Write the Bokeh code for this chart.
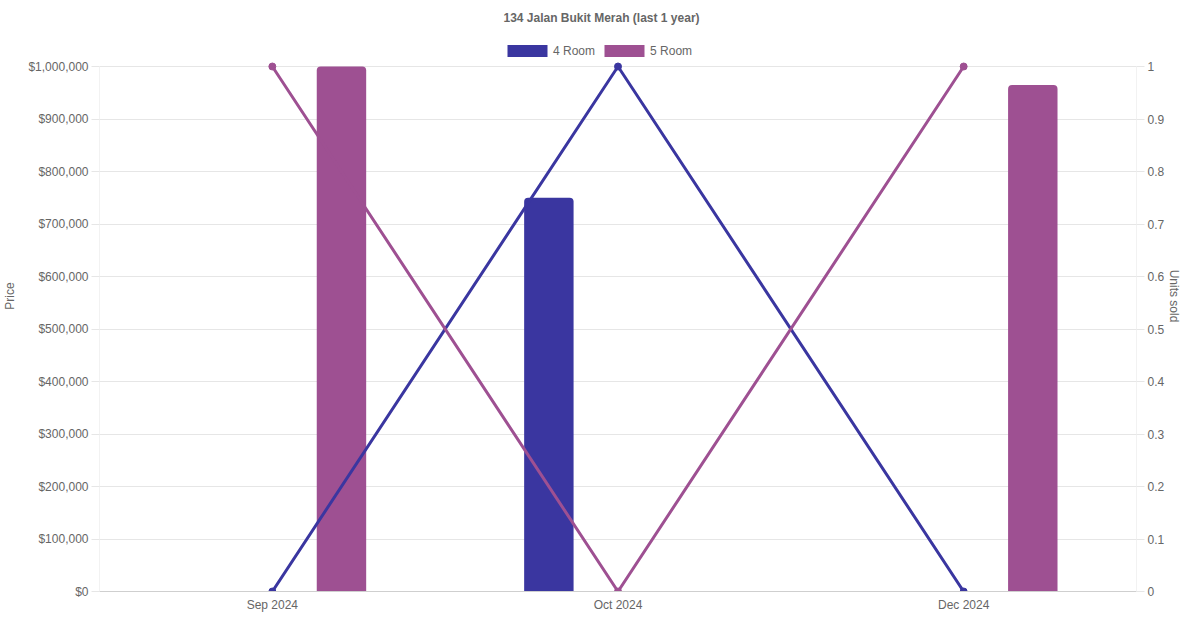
from bokeh.plotting import figure
from bokeh.models import (Range1d, LinearAxis, FixedTicker, Legend, LegendItem, Label,
                          NumeralTickFormatter, FactorRange, ColumnDataSource)
from bokeh.transform import dodge
from bokeh.embed import file_html
from bokeh.resources import INLINE

months = ["Sep 2024", "Oct 2024", "Dec 2024"]
price_4room = [None, 750000, None]
price_5room = [1000000, None, 965000]
units_4room = [0, 1, 0]
units_5room = [1, 0, 1]
price_ticks = [0, 100000, 200000, 300000, 400000, 500000, 600000, 700000, 800000, 900000, 1000000]
unit_ticks = [0, 0.1, 0.2, 0.3, 0.4, 0.5, 0.6, 0.7, 0.8, 0.9, 1]
title_text = "134 Jalan Bukit Merah (last 1 year)"

C4 = "#3a36a0"
C5 = "#9e5092"
FONT = "Liberation Sans"
GRID = "#e6e6e6"
TXT = "#666666"

# layout (pixels in figure coordinates)
W, H = 1184, 614
LEFT, RIGHT = 98, 44
AXIS_TOP, XAXIS_H = 66, 23
FRAME_BOTTOM = H - XAXIS_H
stretch = FRAME_BOTTOM / (FRAME_BOTTOM - AXIS_TOP)
pmax, umax = price_ticks[-1], unit_ticks[-1]

p = figure(width=W, height=H, x_range=FactorRange(*months),
           y_range=Range1d(0, pmax * stretch), output_backend="svg", toolbar_location=None,
           min_border_left=LEFT, min_border_right=RIGHT, min_border_top=0,
           min_border_bottom=XAXIS_H)
p.extra_y_ranges = {"units": Range1d(0, umax * stretch)}
p.outline_line_color = None
p.background_fill_color = "white"
p.x_range.range_padding = 0

# vertical axis borders (only spanning the value range)
n = len(months)
p.segment(x0=[0, n], y0=[0, 0], x1=[0, n], y1=[pmax, pmax], line_color=GRID, line_width=1)

def src(vals):
    xs = [m for m, v in zip(months, vals) if v is not None]
    ys = [v for v in vals if v is not None]
    return ColumnDataSource(dict(x=xs, top=ys))

b4 = p.vbar(x=dodge("x", -0.2, range=p.x_range), top="top", width=0.143, source=src(price_4room),
            fill_color=C4, line_color=None, border_radius=(4, 4, 0, 0))
b5 = p.vbar(x=dodge("x", 0.2, range=p.x_range), top="top", width=0.143, source=src(price_5room),
            fill_color=C5, line_color=None, border_radius=(4, 4, 0, 0))

p.line(months, units_4room, y_range_name="units", line_color=C4, line_width=3)
p.scatter(months, units_4room, y_range_name="units", size=7, fill_color=C4, line_color=C4)
p.line(months, units_5room, y_range_name="units", line_color=C5, line_width=3)
p.scatter(months, units_5room, y_range_name="units", size=7, fill_color=C5, line_color=C5)

ya = p.yaxis[0]
ya.ticker = FixedTicker(ticks=price_ticks)
ya.formatter = NumeralTickFormatter(format="$0,0")
ya.axis_label = "Price"

right = LinearAxis(y_range_name="units", ticker=FixedTicker(ticks=unit_ticks),
                   formatter=NumeralTickFormatter(format="0.[0]"), axis_label="Units sold")
p.add_layout(right, "right")

for ax in [ya, right]:
    ax.axis_line_color = None
    ax.major_tick_line_color = GRID
    ax.major_tick_out = 8
    ax.major_tick_in = 0
    ax.minor_tick_line_color = None
    ax.major_label_standoff = 3
    ax.major_label_text_font = FONT
    ax.major_label_text_font_size = "12px"
    ax.major_label_text_color = TXT
    ax.axis_label_text_font = FONT
    ax.axis_label_text_font_size = "12px"
    ax.axis_label_text_font_style = "normal"
    ax.axis_label_text_color = TXT
    ax.axis_label_standoff = 0
ya.axis_label_standoff = 8

xa = p.xaxis[0]
xa.axis_line_color = "#cfcfcf"
xa.major_tick_line_color = None
xa.minor_tick_line_color = None
xa.major_label_standoff = 0
xa.major_label_text_font = FONT
xa.major_label_text_font_size = "12px"
xa.major_label_text_color = TXT

p.xgrid.visible = False
p.ygrid.grid_line_color = GRID

legend = Legend(items=[LegendItem(label="4 Room", renderers=[b4]),
                       LegendItem(label="5 Room", renderers=[b5])],
                orientation="horizontal", location=(501 - LEFT, FRAME_BOTTOM - 58),
                glyph_width=50, glyph_height=15, label_height=15, label_standoff=1,
                spacing=4, padding=0, margin=0, border_line_color=None,
                label_text_font=FONT, label_text_font_size="12px", label_text_color=TXT,
                background_fill_alpha=0)
p.add_layout(legend, "center")

title = Label(x=600 - LEFT, y=FRAME_BOTTOM - 17, x_units="screen", y_units="screen", text=title_text,
              text_align="center", text_baseline="middle", text_font=FONT,
              text_font_size="12px", text_font_style="bold", text_color=TXT)
p.add_layout(title)

open("out.html", "w").write(file_html(p, INLINE))
